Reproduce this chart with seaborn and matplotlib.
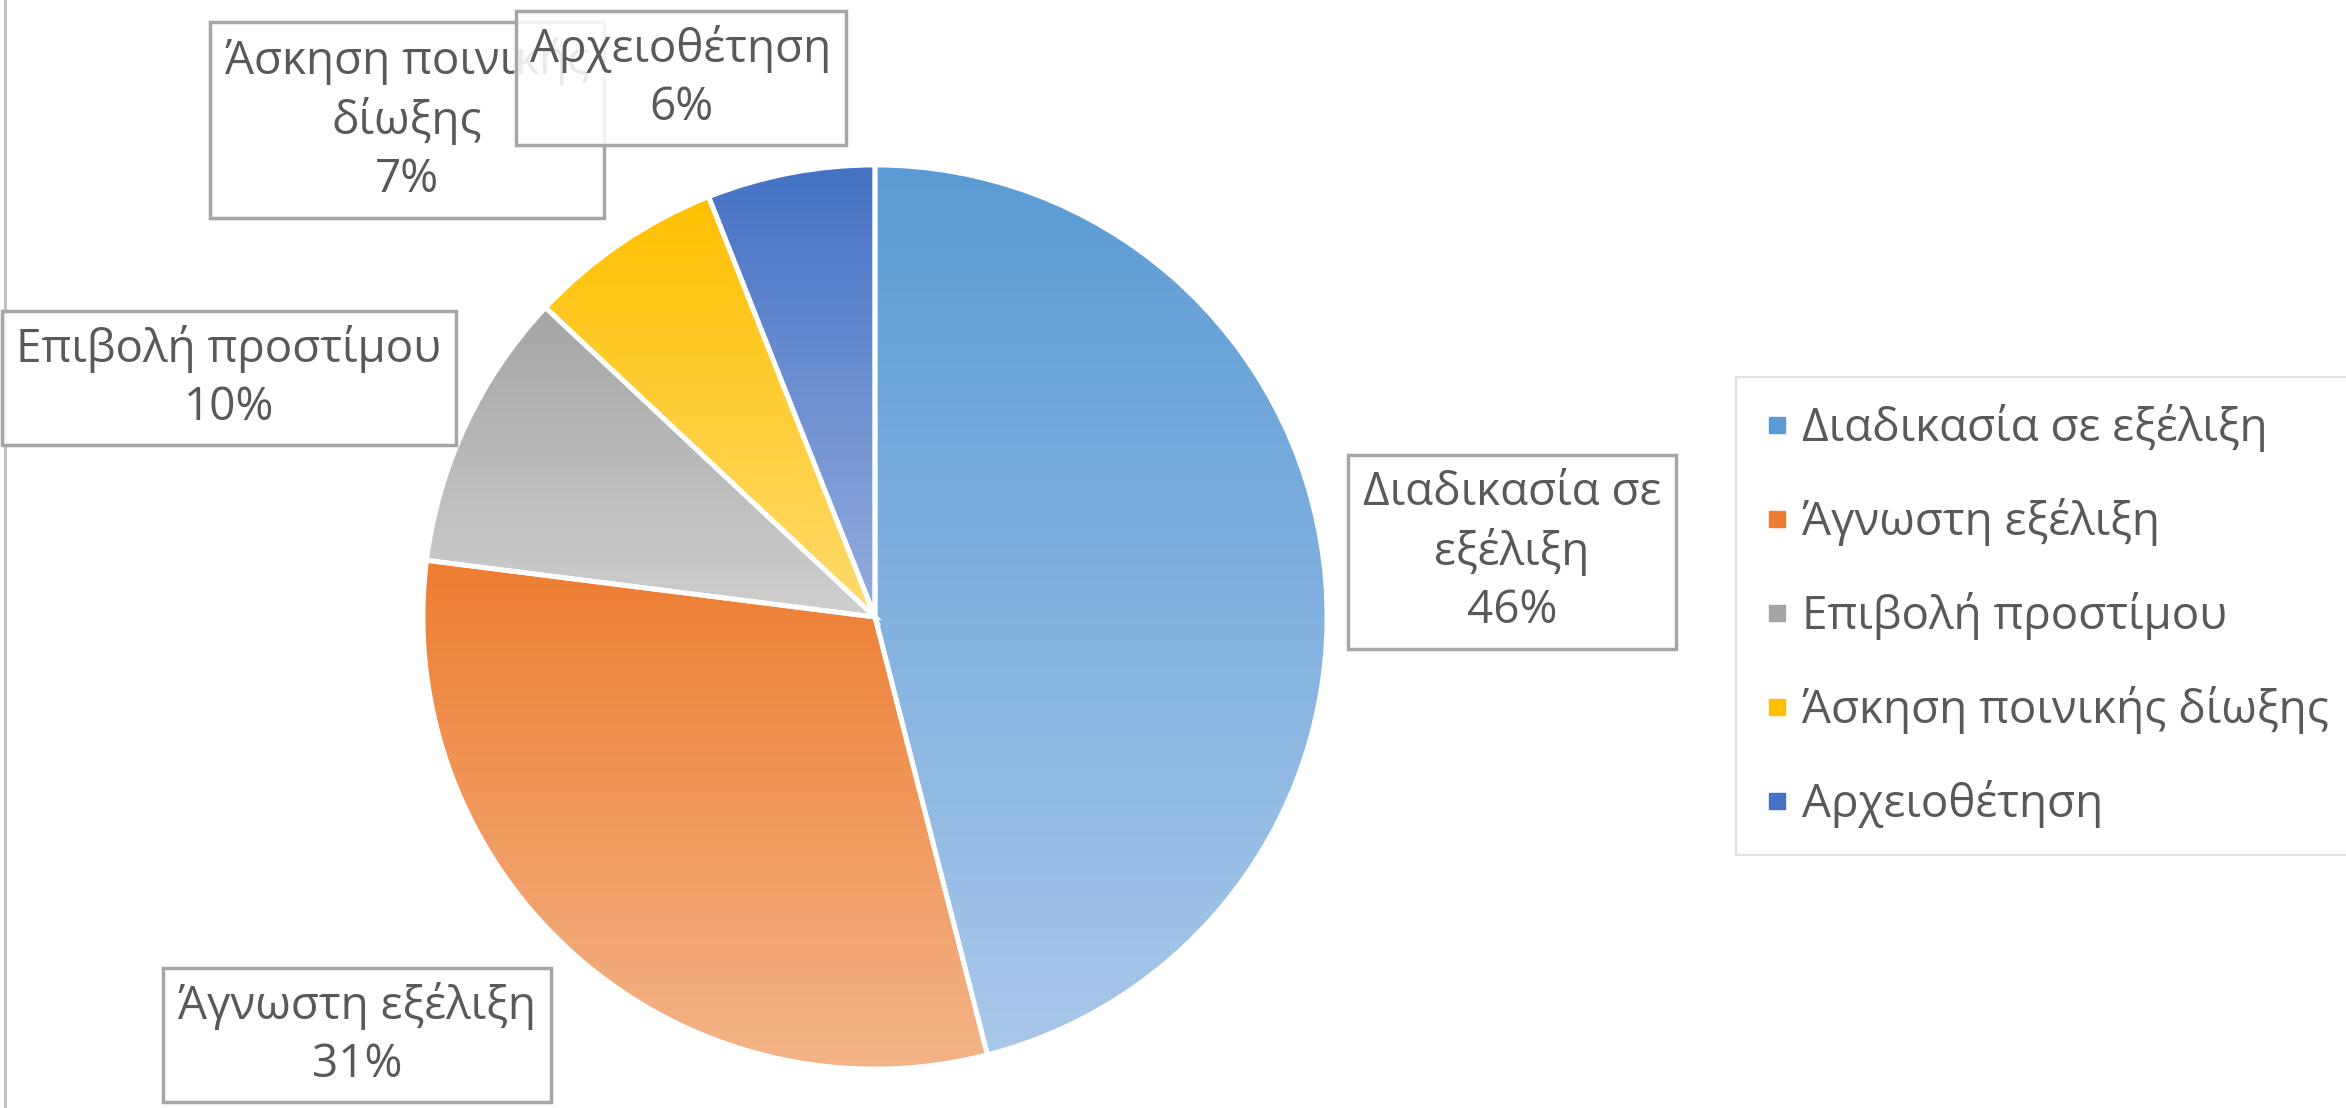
import numpy as np
import matplotlib
matplotlib.use("Agg")
import matplotlib.pyplot as plt
from matplotlib.colors import to_rgb
from matplotlib.lines import Line2D
import seaborn as sns

# ---- data ----
categories = ["Διαδικασία σε εξέλιξη", "Άγνωστη εξέλιξη", "Επιβολή προστίμου",
              "Άσκηση ποινικής δίωξης", "Αρχειοθέτηση"]
label_texts = ["Διαδικασία σε\nεξέλιξη", "Άγνωστη εξέλιξη", "Επιβολή προστίμου",
               "Άσκηση ποινικής\nδίωξης", "Αρχειοθέτηση"]
values = [46, 31, 10, 7, 6]
top_colors = ["#5B9BD5", "#ED7D31", "#A5A5A5", "#FFC000", "#4472C4"]
bottom_colors = ["#A9C8EA", "#F4B488", "#CFCFCF", "#FFDB6E", "#95ADDE"]

sns.set_theme(style="white")
plt.rcParams['font.family'] = ['Open Sans', 'DejaVu Sans']

W, H = 2346, 1108
fig = plt.figure(figsize=(W / 100, H / 100), dpi=100)
ax = fig.add_axes([0, 0, 1, 1])

cx, cy, R = 875, H - 617, 452
wedges, _ = ax.pie(values, startangle=90, counterclock=False, radius=R,
                   center=(cx, cy), colors=["none"] * len(values),
                   wedgeprops=dict(edgecolor="white", linewidth=3.5))
for w in wedges:
    w.set_zorder(3)

# gradient fills per slice (darker top -> lighter bottom)
for w, ct, cb in zip(wedges, top_colors, bottom_colors):
    ext = w.get_path().get_extents()
    n = 256
    t = np.linspace(0, 1, n)[:, None]
    c0 = np.array(to_rgb(cb)); c1 = np.array(to_rgb(ct))
    grad = (c0[None, :] * (1 - t) + c1[None, :] * t)[:, None, :]
    im = ax.imshow(grad, extent=(ext.x0, ext.x1, ext.y0, ext.y1), origin="lower",
                   aspect="auto", zorder=2, interpolation="bilinear")
    im.set_clip_path(w)

# data labels
label_pos = [(1512, 552), (357, 1035), (229, 378), (407, 120), (681, 78)]
FS = 33
for (px, py), txt, v in zip(label_pos, label_texts, values):
    ax.text(px, H - py, f"{txt}\n{v}%", ha="center", va="center", fontsize=FS,
            color="#595959", linespacing=1.33, zorder=5,
            bbox=dict(boxstyle="square,pad=0.32", fc=(1, 1, 1, 0.88),
                      ec="#A6A6A6", lw=2.5))

# left border line of chart area
ax.plot([5, 5], [0, H], color="#BFBFBF", lw=2, zorder=1)

handles = [Line2D([], [], marker="s", linestyle="", markersize=12,
                  markerfacecolor=c, markeredgecolor=c) for c in top_colors]
leg = ax.legend(handles, categories, loc="upper left",
                bbox_to_anchor=(1736 / W, 1 - 377 / H), bbox_transform=fig.transFigure,
                fontsize=FS, frameon=True, fancybox=False, edgecolor="#D9D9D9",
                labelspacing=1.0, handletextpad=0.25, handlelength=0.6,
                borderpad=0.6, borderaxespad=0)
for t in leg.get_texts():
    t.set_color("#595959")
leg.get_frame().set_linewidth(1.5)

ax.set_xlim(0, W)
ax.set_ylim(0, H)
ax.set_aspect("auto")
ax.axis("off")
fig.savefig("out.png", dpi=100, facecolor="white")
